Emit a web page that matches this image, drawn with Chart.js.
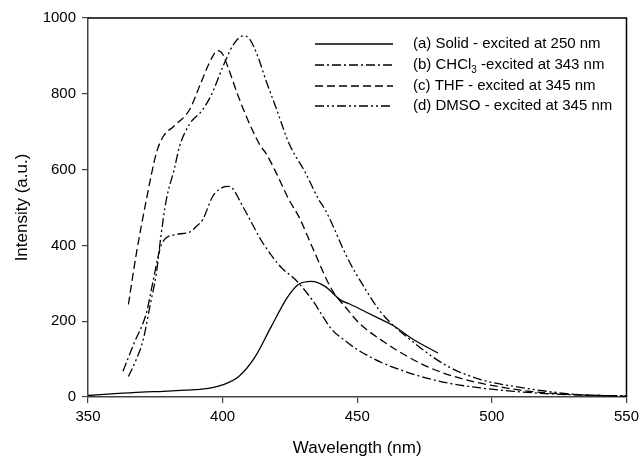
<!DOCTYPE html>
<html>
<head>
<meta charset="utf-8">
<script src="https://cdn.jsdelivr.net/npm/chart.js@4.4.1/dist/chart.umd.min.js"></script>
<style>
html,body{margin:0;padding:0;background:#fff;}
canvas{display:block;}
</style>
</head>
<body>
<canvas id="c" width="644" height="460"></canvas>
<script>
// ---- data ----
const solidX = [350,360,370,378,386,394,400,406,412,418,424,428,433,438,444,447,453,459,463,471,480];
const solidY = [4,9,13,15,18,22,32,54,105,185,262,296,305,292,255,246,225,204,190,151,116];

const chclX = [363,367,371.7,374,376.7,378,382,387.7,390.2,392.6,396.3,400,402,404,406.2,410,414.2,418.4,422,427,433.2,440.6,446,450,455,459,471.3,483.6,495.9,508.2,520,530,540,550];
const chclY = [68,140,222,300,390,412,428,435,450,468,529,553,556,548,520,470,415,371,340,310,257,178,146,125,105,91,59,37,24,15,9,6,4,3];

const thfX = [365,368,371.7,375.4,378,382,387.7,392,396,398.2,400,402,406,411,414.2,416,420,424.6,428.3,433.2,440.6,446.7,450.4,454,459,465,477,490,502,514,532,550];
const thfY = [244,380,521,644,688,715,758,830,895,914,905,870,790,705,661,644,590,521,476,397,283,228,197,175,150,122,77,46,28,15,6,2];

const dmsoX = [365,368,370.5,373,375.4,377,379.1,382,384,387.7,392.6,396,400,401.2,404,407.7,410,413,416,420,424.6,430.8,435.7,438.1,446.7,451.6,459,471.3,483.6,495.9,508.2,520.5,532.7,550];
const dmsoY = [54,100,151,240,327,420,521,600,661,720,758,800,870,890,930,953,945,900,837,760,670,591,521,494,362,301,222,142,81,46,28,15,6,3];

const seriesLabels = [
  "(a) Solid - excited at 250 nm",
  "(b) CHCl\u2083 -excited at 343 nm",
  "(c) THF - excited at 345 nm",
  "(d) DMSO - excited at 345 nm"
];
const xTicks = [350,400,450,500,550];
const yTicks = [0,200,400,600,800,1000];

function pts(xs, ys){ return xs.map((x,i)=>({x:x, y:ys[i]})); }

const FONT = "'Liberation Sans', Arial, Helvetica, sans-serif";

const frame = {
  id:'frame',
  afterDatasetsDraw(chart){
    const {ctx, chartArea:a} = chart;
    ctx.save();
    ctx.strokeStyle = '#000';
    ctx.lineWidth = 1.5;
    ctx.beginPath();
    ctx.moveTo(a.left, a.top); ctx.lineTo(a.right, a.top); ctx.lineTo(a.right, a.bottom);
    ctx.stroke();
    // legend
    const rows = [44, 65, 86, 106];
    chart.data.datasets.forEach((ds, i) => {
      const y = rows[i];
      ctx.setLineDash(ds.borderDash || []);
      ctx.lineWidth = 1.3;
      ctx.strokeStyle = '#000';
      ctx.beginPath(); ctx.moveTo(315, y); ctx.lineTo(393, y); ctx.stroke();
      ctx.setLineDash([]);
      ctx.fillStyle = '#000';
      ctx.font = "15px " + FONT;
      ctx.textBaseline = 'middle';
      ctx.textAlign = 'left';
      const lbl = ds.label;
      const k = lbl.indexOf('\u2083');
      if (k >= 0) {
        const a1 = lbl.slice(0, k), a2 = lbl.slice(k+1);
        ctx.fillText(a1, 413, y);
        let w = ctx.measureText(a1).width;
        ctx.font = "10px " + FONT;
        ctx.fillText('3', 413 + w, y + 5);
        w += ctx.measureText('3').width;
        ctx.font = "15px " + FONT;
        ctx.fillText(a2, 413 + w, y);
      } else {
        ctx.fillText(lbl, 413, y);
      }
    });
    ctx.restore();
  }
};

const common = {borderColor:'#000', backgroundColor:'#000', borderWidth:1.3, pointRadius:0, fill:false, cubicInterpolationMode:'monotone'};

new Chart(document.getElementById('c'), {
  type:'line',
  data:{
    datasets:[
      Object.assign({label:seriesLabels[0], data:pts(solidX, solidY), borderDash:[]}, common),
      Object.assign({label:seriesLabels[1], data:pts(chclX, chclY), borderDash:[9,3,2,3]}, common),
      Object.assign({label:seriesLabels[2], data:pts(thfX, thfY), borderDash:[8,4]}, common),
      Object.assign({label:seriesLabels[3], data:pts(dmsoX, dmsoY), borderDash:[9,3,2,3,2,3]}, common)
    ]
  },
  options:{
    responsive:false,
    animation:false,
    devicePixelRatio:1,
    layout:{padding:{left:0, right:14, top:18, bottom:0}},
    plugins:{legend:{display:false}, tooltip:{enabled:false}},
    scales:{
      x:{
        type:'linear', min:350, max:550,
        afterFit(s){ s.height = 63; },
        afterBuildTicks(s){ s.ticks = xTicks.map(v=>({value:v})); },
        ticks:{color:'#000', font:{family:FONT, size:15}, padding:5, maxRotation:0, callback:v=>String(v)},
        grid:{display:true, drawOnChartArea:false, tickLength:6, color:'#444', lineWidth:1.2},
        border:{display:true, color:'#444', width:1.5},
        title:{display:true, text:'Wavelength (nm)', color:'#000', font:{family:FONT, size:17}, padding:{top:0, bottom:1}}
      },
      y:{
        min:0, max:1000,
        afterFit(s){ s.width = 88; },
        afterBuildTicks(s){ s.ticks = yTicks.map(v=>({value:v})); },
        ticks:{color:'#000', font:{family:FONT, size:15}, padding:6, callback:v=>String(v)},
        grid:{display:true, drawOnChartArea:false, tickLength:6, color:'#444', lineWidth:1.2},
        border:{display:true, color:'#444', width:1.5},
        title:{display:true, text:'Intensity (a.u.)', color:'#000', font:{family:FONT, size:17}, padding:{top:12, bottom:0}}
      }
    }
  },
  plugins:[frame]
});
</script>
</body>
</html>
